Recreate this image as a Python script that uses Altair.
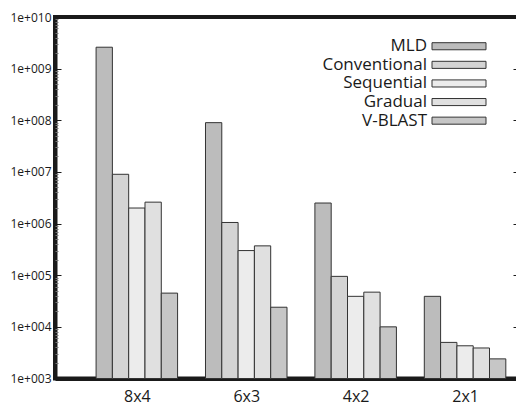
import json
import altair as alt
import pandas as pd

# ---- data ----
groups = ["8x4", "6x3", "4x2", "2x1"]
series = ["MLD", "Conventional", "Sequential", "Gradual", "V-BLAST"]
mld = [2.6e9, 9.0e7, 2.5e6, 3.9e4]
conventional = [9.0e6, 1.05e6, 9.5e4, 5.0e3]
sequential = [2.0e6, 3.0e5, 3.9e4, 4.3e3]
gradual = [2.6e6, 3.7e5, 4.7e4, 3.9e3]
vblast = [4.5e4, 2.4e4, 1.0e4, 2.4e3]

# ---- styling ----
fills = ["#bcbcbc", "#d4d4d4", "#ececec", "#e0e0e0", "#c6c6c6"]
FONT = "Open Sans"
INK = "#1a1a1a"
W = 464
H = 361.5
BW = 0.149
XDOM = [-0.748, 3.493]
YDOM = [1e3, 1e10]

rows = []
for si, (name, vals) in enumerate(zip(series, [mld, conventional, sequential, gradual, vblast])):
    for gi, (g, v) in enumerate(zip(groups, vals)):
        rows.append({"group": g, "gi": gi, "series": name, "si": si, "value": v})
df = pd.DataFrame(rows)

major = [10 ** k for k in range(3, 11)]
minor = [m * 10 ** k for k in range(3, 10) for m in range(2, 10)]
is_major = "abs(log(datum.value)/LN10 - round(log(datum.value)/LN10)) < 0.001"

yscale = alt.Scale(type="log", domain=YDOM, nice=False)
color = alt.Color("series:N", scale=alt.Scale(domain=series, range=fills), legend=None)

bars = alt.Chart(df).mark_bar(stroke="#333333", strokeWidth=1).transform_calculate(
    x0=f"datum.gi + (datum.si - 2.5) * {BW}",
    x1=f"datum.gi + (datum.si - 1.5) * {BW}",
).encode(
    x=alt.X(
        "x0:Q",
        scale=alt.Scale(domain=XDOM, nice=False, zero=False),
        axis=alt.Axis(
            values=[0, 1, 2, 3],
            labelExpr=f"{json.dumps(groups)}[datum.value]",
            ticks=False, grid=False, title=None,
            domain=True, domainColor=INK, domainWidth=4,
            labelFont=FONT, labelFontSize=16, labelColor=INK, labelPadding=10,
        ),
    ),
    x2="x1:Q",
    y=alt.Y(
        "value:Q",
        scale=yscale,
        axis=alt.Axis(
            values=major,
            labelExpr="'1e+' + format(round(log(datum.value)/LN10), '03d')",
            ticks=False, grid=False, title=None,
            domain=True, domainColor=INK, domainWidth=4,
            labelFont=FONT, labelFontSize=12, labelColor=INK, labelPadding=4,
            labelOverlap=False,
        ),
    ),
    y2=alt.datum(1000),
    fill=color,
)

ticks_left = alt.Chart(df).mark_point(opacity=0).encode(
    y=alt.Y(
        "value:Q",
        scale=yscale,
        axis=alt.Axis(
            orient="right", offset=-W, values=major + minor,
            labels=False, domain=False, grid=False, title=None,
            tickSize={"condition": {"test": is_major, "value": 6}, "value": 3},
            tickColor={"condition": {"test": is_major, "value": INK}, "value": "#777777"},
            tickWidth=1,
        ),
    )
)

ticks_right = alt.Chart(df).mark_point(opacity=0).encode(
    y=alt.Y(
        "value:Q",
        scale=yscale,
        axis=alt.Axis(
            orient="left", offset=-W, values=major,
            labels=False, domain=False, grid=False, title=None,
            tickSize=6, tickColor=INK, tickWidth=1,
        ),
    )
)

main = alt.layer(bars, ticks_left, ticks_right).resolve_axis(y="independent")

leg_df = pd.DataFrame({"series": series})
legy = alt.Y(
    "series:N",
    scale=alt.Scale(domain=series, range=[25.7, 107.2], paddingInner=0.62, paddingOuter=0),
    axis=None,
)
leg_rect = alt.Chart(leg_df).mark_rect(stroke="#333333", strokeWidth=1).encode(
    x=alt.value(377), x2=alt.value(431), y=legy, fill=color
)
leg_text = alt.Chart(leg_df).mark_text(
    align="right", baseline="middle", fontSize=17, font=FONT, color=INK
).encode(x=alt.value(372), y=legy, text="series:N")
legend = alt.layer(leg_rect, leg_text)

chart = (
    alt.layer(main, legend)
    .resolve_scale(y="independent")
    .properties(
        width=W,
        height=H,
        autosize="none",
        padding={"left": 55, "top": 17, "right": -3, "bottom": 27.5},
        background="white",
    )
    .configure_view(stroke=INK, strokeWidth=4)
)

chart.save("out.html", embed_options={"renderer": "svg", "actions": False})
